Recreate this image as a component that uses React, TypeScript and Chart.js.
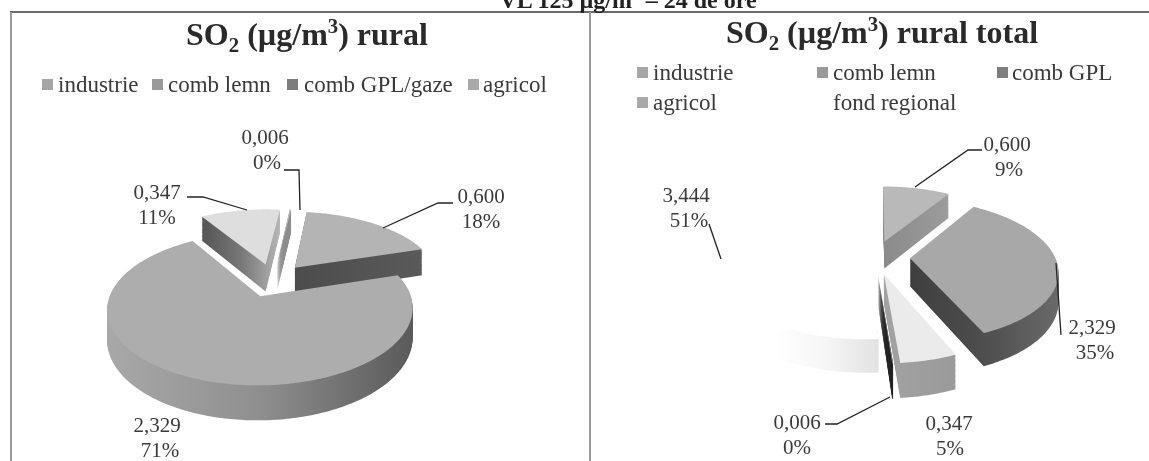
import React, { useEffect, useRef } from "react";
import { Chart, registerables } from "chart.js";

Chart.register(...registerables);

const leftCategories = ["industrie", "comb lemn", "comb GPL/gaze", "agricol"];
const leftValues = [0.6, 2.329, 0.347, 0.006];
const leftValueLabels = ["0,600", "2,329", "0,347", "0,006"];
const leftPercentLabels = ["18%", "71%", "11%", "0%"];

const rightCategories = ["industrie", "comb lemn", "comb GPL", "agricol", "fond regional"];
const rightValues = [0.6, 2.329, 0.347, 0.006, 3.444];
const rightValueLabels = ["0,600", "2,329", "0,347", "0,006", "3,444"];
const rightPercentLabels = ["9%", "35%", "5%", "0%", "51%"];

const FONT = '"Liberation Serif", serif';
const RADIUS = 145;
const EXPLODE = 35;
const Y_SQUASH = 0.474;
const FOCAL = 888;
const DEPTH = 28;

type Stops = string[];
type PieStyle = {
  offsets: number[];
  tops: string[];
  walls: Stops[];
  wallClipTop: (number | null)[];
  labels: { x: number; y: number; x2?: number }[];
  leaders: number[][][];
};

const leftStyle: PieStyle = {
  offsets: [EXPLODE, EXPLODE, EXPLODE, EXPLODE],
  tops: ["#b4b4b4", "#adadad", "#dedede", "#bdbdbd"],
  walls: [
    ["#4c4c4c", "#5a5a5a"],
    ["#a8a8a8", "#8f8f8f", "#5a5a5a"],
    ["#555555", "#777777", "#b5b5b5"],
    ["#8c8c8c", "#8c8c8c"],
  ],
  wallClipTop: [null, null, null, null],
  labels: [
    { x: 481, y: 197, x2: 481 },
    { x: 157, y: 426, x2: 160 },
    { x: 157, y: 193, x2: 157 },
    { x: 265, y: 138, x2: 267 },
  ],
  leaders: [
    [[453, 203], [438, 203], [383, 228]],
    [[187, 197], [203, 197], [247, 210]],
    [[284, 170], [299, 170], [300, 210]],
  ],
};

const rightStyle: PieStyle = {
  offsets: [EXPLODE, EXPLODE, EXPLODE, EXPLODE, 8],
  tops: ["#b9b9b9", "#a8a8a8", "#ebebeb", "#777777", "#ffffff"],
  walls: [
    ["#8a8a8a", "#9c9c9c"],
    ["#3f3f3f", "#4e4e4e", "#6a6a6a"],
    ["#a2a2a2", "#9a9a9a"],
    ["#222222", "#222222"],
    ["#ffffff", "#ffffff", "#f6f6f6", "#e2e2e2"],
  ],
  wallClipTop: [null, null, null, null, 330],
  labels: [
    { x: 1007, y: 145, x2: 1009 },
    { x: 1092, y: 328, x2: 1095 },
    { x: 949, y: 424, x2: 950 },
    { x: 797, y: 423, x2: 797 },
    { x: 686, y: 196, x2: 689 },
  ],
  leaders: [
    [[982, 150], [968, 150], [915, 187]],
    [[709, 224], [721, 259]],
    [[1056, 263], [1061, 335]],
    [[825, 424], [837, 424], [890, 397]],
  ],
};

function project(cx: number, cy: number, u: number, v: number, h: number) {
  const s = 1 / (1 - v / FOCAL);
  return [cx + u * s, cy + v * Y_SQUASH * s + h * s];
}

function piePlugin(style: PieStyle, valueLabels: string[], percentLabels: string[], originX: number) {
  return {
    id: "pie3d",
    beforeDatasetsDraw(chart: any) {
      const ctx = chart.ctx as CanvasRenderingContext2D;
      const arcs: any[] = chart.getDatasetMeta(0).data;
      const shapes = arcs.map((arc, i) => {
        const { x, y, startAngle, endAngle, outerRadius } = arc.getProps(
          ["x", "y", "startAngle", "endAngle", "outerRadius"],
          true
        );
        const mid = (startAngle + endAngle) / 2;
        const u0 = Math.cos(mid) * arc.options.offset;
        const v0 = Math.sin(mid) * arc.options.offset;
        const pts: number[][] = [[u0, v0]];
        const n = Math.max(2, Math.ceil(((endAngle - startAngle) * 180) / Math.PI));
        for (let k = 0; k <= n; k++) {
          const a = startAngle + ((endAngle - startAngle) * k) / n;
          pts.push([u0 + outerRadius * Math.cos(a), v0 + outerRadius * Math.sin(a)]);
        }
        return { i, x, y, v0, pts };
      });
      shapes.sort((a, b) => a.v0 - b.v0);
      shapes.forEach(({ i, x, y, pts }) => {
        const trace = (h: number) => {
          ctx.beginPath();
          pts.forEach(([u, v], k) => {
            const [px, py] = project(x, y, u, v, h);
            if (k === 0) ctx.moveTo(px, py);
            else ctx.lineTo(px, py);
          });
          ctx.closePath();
        };
        const xs = pts.map(([u, v]) => project(x, y, u, v, 0)[0]);
        const grad = ctx.createLinearGradient(Math.min(...xs), 0, Math.max(...xs) + 0.01, 0);
        const stops = style.walls[i];
        stops.forEach((c, k) => grad.addColorStop(k / (stops.length - 1), c));
        ctx.save();
        const clipTop = style.wallClipTop[i];
        if (clipTop !== null) {
          ctx.beginPath();
          ctx.rect(0, clipTop, chart.width, chart.height - clipTop);
          ctx.clip();
        }
        ctx.fillStyle = grad;
        for (let h = DEPTH; h >= 1; h--) {
          trace(h);
          ctx.fill();
        }
        ctx.restore();
        ctx.fillStyle = style.tops[i];
        trace(0);
        ctx.fill();
      });
      return false;
    },
    afterDraw(chart: any) {
      const ctx = chart.ctx as CanvasRenderingContext2D;
      ctx.save();
      ctx.strokeStyle = "#222222";
      ctx.lineWidth = 1.3;
      style.leaders.forEach((line) => {
        ctx.beginPath();
        line.forEach(([x, y], k) => {
          if (k === 0) ctx.moveTo(x - originX, y);
          else ctx.lineTo(x - originX, y);
        });
        ctx.stroke();
      });
      ctx.fillStyle = "#3a3a3a";
      ctx.font = `21px ${FONT}`;
      ctx.textAlign = "center";
      ctx.textBaseline = "middle";
      style.labels.forEach((p, i) => {
        ctx.fillText(valueLabels[i], p.x - originX, p.y);
        ctx.fillText(percentLabels[i], (p.x2 ?? p.x) - originX, p.y + 25);
      });
      ctx.restore();
    },
  };
}

function PieCanvas(props: {
  left: number;
  width: number;
  padding: any;
  rotation: number;
  labels: string[];
  values: number[];
  style: PieStyle;
  valueLabels: string[];
  percentLabels: string[];
}) {
  const ref = useRef<HTMLCanvasElement>(null);
  useEffect(() => {
    const chart = new Chart(ref.current as HTMLCanvasElement, {
      type: "pie",
      data: {
        labels: props.labels,
        datasets: [
          {
            data: props.values,
            backgroundColor: props.style.tops,
            borderWidth: 0,
            offset: props.style.offsets,
          },
        ],
      },
      options: {
        responsive: false,
        animation: false,
        rotation: props.rotation,
        radius: RADIUS,
        layout: { padding: props.padding },
        plugins: { legend: { display: false }, tooltip: { enabled: false } },
      },
      plugins: [piePlugin(props.style, props.valueLabels, props.percentLabels, props.left)],
    } as any);
    return () => chart.destroy();
  }, []);
  return (
    <canvas
      ref={ref}
      width={props.width}
      height={461}
      style={{ position: "absolute", left: props.left, top: 0, width: props.width, height: 461 }}
    />
  );
}

function Title(props: { x: number; y: number; text: string }) {
  return (
    <div
      style={{
        position: "absolute",
        left: props.x,
        top: props.y,
        transform: "translateX(-50%)",
        font: `bold 32px ${FONT}`,
        color: "#2a2a2a",
        whiteSpace: "nowrap",
        lineHeight: "36px",
      }}
    >
      SO<sub style={{ fontSize: "0.65em", lineHeight: 0 }}>2</sub> (µg/m
      <sup style={{ fontSize: "0.65em", lineHeight: 0 }}>3</sup>) {props.text}
    </div>
  );
}

function LegendItem(props: { swatch: number; text: number; y: number; label: string; color?: string }) {
  return (
    <>
      {props.color ? (
        <div
          style={{
            position: "absolute",
            left: props.swatch,
            top: props.y - 6,
            width: 11,
            height: 11,
            background: props.color,
          }}
        />
      ) : null}
      <div
        style={{
          position: "absolute",
          left: props.text,
          top: props.y - 14,
          font: `23px ${FONT}`,
          lineHeight: "28px",
          color: "#3a3a3a",
          whiteSpace: "nowrap",
        }}
      >
        {props.label}
      </div>
    </>
  );
}

const swatchColors = ["#a6a6a6", "#9a9a9a", "#7d7d7d", "#a9a9a9"];

export default function App() {
  return (
    <div
      style={{
        position: "absolute",
        left: 0,
        top: 0,
        width: 1149,
        height: 461,
        overflow: "hidden",
        background: "#fff",
      }}
    >
      <PieCanvas
        left={0}
        width={589}
        padding={{ right: 43, top: 99 }}
        rotation={7}
        labels={leftCategories}
        values={leftValues}
        style={leftStyle}
        valueLabels={leftValueLabels}
        percentLabels={leftPercentLabels}
      />
      <PieCanvas
        left={589}
        width={560}
        padding={{ left: 12, top: 53 }}
        rotation={0}
        labels={rightCategories}
        values={rightValues}
        style={rightStyle}
        valueLabels={rightValueLabels}
        percentLabels={rightPercentLabels}
      />
      <div style={{ position: "absolute", left: 10, top: 11, width: 1139, height: 2, background: "#6a6a6a" }} />
      <div style={{ position: "absolute", left: 10, top: 12, width: 2, height: 449, background: "#9a9a9a" }} />
      <div style={{ position: "absolute", left: 589, top: 12, width: 2, height: 449, background: "#9a9a9a" }} />
      <div
        style={{
          position: "absolute",
          left: 628,
          top: -14,
          transform: "translateX(-50%)",
          font: `bold 24px ${FONT}`,
          lineHeight: "28px",
          whiteSpace: "nowrap",
          color: "#222",
        }}
      >
        VL 125 µg/m<sup style={{ fontSize: "0.65em", lineHeight: 0 }}>3</sup> – 24 de ore
      </div>
      <Title x={307} y={16} text="rural" />
      <Title x={882} y={14} text="rural total" />
      <LegendItem swatch={42} text={58} y={85} label={leftCategories[0]} color={swatchColors[0]} />
      <LegendItem swatch={152} text={168} y={85} label={leftCategories[1]} color={swatchColors[1]} />
      <LegendItem swatch={287} text={304} y={85} label={leftCategories[2]} color={swatchColors[2]} />
      <LegendItem swatch={468} text={483} y={85} label={leftCategories[3]} color={swatchColors[3]} />
      <LegendItem swatch={637} text={653} y={73} label={rightCategories[0]} color={swatchColors[0]} />
      <LegendItem swatch={817} text={833} y={73} label={rightCategories[1]} color={swatchColors[1]} />
      <LegendItem swatch={997} text={1012} y={73} label={rightCategories[2]} color={swatchColors[2]} />
      <LegendItem swatch={637} text={653} y={103} label={rightCategories[3]} color={swatchColors[3]} />
      <LegendItem swatch={817} text={833} y={103} label={rightCategories[4]} />
    </div>
  );
}
